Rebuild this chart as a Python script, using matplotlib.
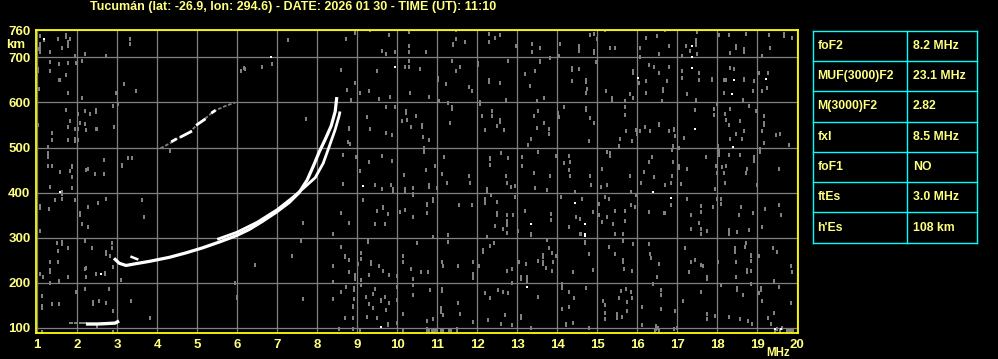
#
# Ionogram: virtual height vs frequency, with the scaled parameters table
#
import numpy as np
import matplotlib
matplotlib.use('Agg')
import matplotlib.pyplot as plt
from matplotlib.lines import Line2D

title = 'Tucumán (lat: -26.9, lon: 294.6) - DATE: 2026 01 30 - TIME (UT): 11:10'

# scaled parameters
param_names = ['foF2', 'MUF(3000)F2', 'M(3000)F2', 'fxI', 'foF1', 'ftEs', "h'Es"]
param_values = ['8.2 MHz', '23.1 MHz', '2.82', '8.5 MHz', 'NO', '3.0 MHz', '108 km']

freq_ticks = list(range(1, 21))
height_ticks = [100, 200, 300, 400, 500, 600, 700, 760]

# F2 trace (ordinary), MHz / km
f2_o_freq = [2.92, 3.05, 3.22, 3.47, 3.8, 4.3, 4.72, 5.13, 5.55, 5.97, 6.3, 6.63, 6.97,
             7.3, 7.55, 7.75, 7.9, 8.05, 8.2, 8.35, 8.45, 8.49]
f2_o_km = [254, 243, 238, 242, 247, 256, 266, 277, 290, 304, 318, 336, 356,
           378, 400, 428, 458, 490, 518, 548, 580, 612]
# F2 trace (extraordinary)
f2_x_freq = [5.5, 6.0, 6.5, 7.0, 7.4, 7.7, 7.95, 8.15, 8.3, 8.45, 8.55, 8.57]
f2_x_km = [296, 312, 334, 362, 390, 413, 433, 465, 502, 540, 571, 580]
# small piece at the start of the trace
f2_start_freq = [3.36, 3.5]
f2_start_km = [257, 252]

# second hop (faint)
hop2_freq = [4.08, 4.33, 4.42, 4.63, 4.81, 5.04, 5.17, 5.42, 5.7, 5.95]
hop2_km = [498, 510, 517, 525, 534, 554, 562, 581, 592, 600]
hop2_white = [(4.38, 4.46, 514, 518), (4.6, 4.84, 524, 535), (5.0, 5.18, 551, 562), (5.38, 5.43, 578, 581)]

# sporadic E
es_freq = [2.26, 2.5, 2.75, 2.95, 3.01]
es_km = [108, 108, 109, 110, 113]
es_faint_freq = [1.81, 1.88, 1.94, 2.0, 2.06, 2.12, 2.18, 2.23]
es_faint_km = [111, 111, 111, 111, 111, 111, 111, 111]

# background noise (MHz, km)
noise = [
    (1.08, 748), (1.17, 738), (1.08, 730), (1.08, 720), (1.08, 713), (1.33, 713), (1.53, 742),
    (1.63, 722), (1.73, 749), (1.73, 745), (1.78, 734), (1.78, 725), (1.83, 742), (1.94, 704),
    (2.2, 707), (2.13, 693), (1.33, 689), (1.54, 685), (1.78, 687), (1.98, 687), (1.03, 674),
    (1.03, 670), (1.33, 670), (1.73, 660), (1.54, 650), (1.56, 650), (1.04, 629), (1.78, 620),
    (2.13, 610), (2.73, 704), (3.33, 742), (3.33, 730), (3.18, 642), (3.48, 625), (2.98, 620),
    (2.9, 593), (3.03, 597), (1.73, 584), (2.03, 575), (2.2, 580), (2.33, 575), (2.48, 583),
    (2.48, 578), (1.83, 558), (2.08, 554), (2.2, 553), (1.78, 545), (1.94, 542), (2.03, 541),
    (2.46, 541), (2.5, 541), (2.23, 538), (2.93, 546), (1.03, 550), (1.38, 533), (1.38, 516),
    (1.78, 516), (1.94, 518), (1.94, 515), (2.03, 516), (1.28, 501), (1.28, 488), (1.28, 479),
    (1.28, 459), (1.38, 459), (1.58, 445), (1.88, 460), (1.88, 457), (1.83, 447), (1.88, 434),
    (2.23, 450), (2.28, 453), (2.44, 441), (2.68, 472), (2.68, 441), (3.13, 461), (3.13, 458),
    (3.28, 477), (3.38, 477), (4.33, 493), (6.18, 677), (6.09, 670), (6.63, 679), (6.88, 685),
    (7.28, 739), (1.03, 718), (6.2, 674),
    (8.94, 755), (9.32, 761), (8.73, 742), (9.79, 749), (10.29, 757), (9.63, 715), (9.73, 707),
    (9.94, 713), (10.29, 725), (10.29, 713), (10.73, 713), (11.4, 730), (11.4, 727),
    (11.48, 740), (11.69, 735), (11.48, 761), (12.29, 752), (12.58, 749), (12.29, 735),
    (12.44, 744), (12.98, 725), (13.38, 729), (13.56, 722), (13.38, 713), (13.58, 693),
    (13.58, 690), (8.59, 672), (9.5, 670), (10.29, 693), (10.29, 679), (10.19, 679),
    (10.58, 674), (11.02, 655), (11.02, 650), (11.38, 693), (11.48, 670), (11.58, 679),
    (12.02, 687), (12.02, 683), (12.29, 650), (12.29, 646), (12.58, 644), (12.77, 693),
    (13.19, 663), (13.33, 637), (13.44, 670), (8.94, 644), (8.75, 628), (9.08, 622),
    (9.29, 625), (9.54, 608), (9.83, 612), (10.33, 622), (10.79, 612), (11.23, 640),
    (11.79, 634), (11.88, 625), (11.04, 603), (12.08, 601), (12.08, 597), (12.71, 605),
    (13.5, 603), (7.73, 563), (8.84, 606), (9.25, 567), (9.71, 589), (9.94, 589), (10.23, 580),
    (10.23, 576), (10.11, 558), (10.25, 561), (10.34, 546), (10.48, 569), (10.63, 550),
    (10.63, 546), (10.79, 516), (10.64, 523), (11.27, 598), (11.36, 589), (11.36, 586),
    (11.31, 555), (12.11, 570), (12.38, 580), (12.38, 570), (12.58, 560), (12.58, 557),
    (12.49, 548), (12.19, 539), (12.66, 539), (13.49, 543), (13.41, 570), (13.53, 582),
    (13.34, 520), (13.28, 505), (13.53, 490), (13.11, 479), (8.79, 543), (8.79, 540),
    (8.76, 513), (8.82, 508), (8.96, 478), (9.31, 541), (9.73, 533), (9.87, 527), (10.66, 498),
    (10.66, 494), (10.66, 490), (11.16, 479), (12.33, 477), (12.33, 474), (12.6, 487),
    (12.78, 477), (12.33, 462), (13.13, 459), (8.64, 483), (9.06, 448), (9.29, 467),
    (9.63, 481), (9.88, 470), (10.17, 440), (10.71, 451), (10.94, 459), (11.13, 442),
    (11.79, 437), (12.71, 437), (13.42, 443),
    (14.83, 750), (14.93, 752), (15.0, 741), (14.54, 725), (14.54, 719), (14.54, 714),
    (14.92, 715), (14.92, 711), (14.96, 689), (14.08, 729), (13.83, 698), (14.04, 704),
    (15.33, 720), (15.44, 720), (15.19, 761), (16.23, 744), (16.5, 748), (16.69, 761),
    (16.79, 725), (16.54, 707), (16.08, 720), (16.08, 700), (17.23, 725), (17.48, 738),
    (17.48, 733), (17.48, 728), (17.33, 714), (17.5, 707), (17.5, 757), (17.13, 703),
    (18.04, 749), (18.29, 749), (18.73, 752), (18.48, 725), (18.48, 720), (18.33, 711),
    (18.67, 718), (18.67, 713), (19.29, 749), (19.33, 722), (19.68, 752), (19.68, 748),
    (19.88, 744), (19.13, 704), (14.38, 677), (14.38, 672), (14.38, 648), (14.54, 674),
    (14.73, 651), (14.73, 646), (14.75, 631), (14.73, 622), (15.23, 625), (15.37, 609),
    (15.37, 605), (15.69, 603), (15.81, 618), (15.9, 670), (15.9, 666), (16.04, 644),
    (16.21, 648), (16.29, 683), (16.42, 678), (16.54, 666), (16.65, 629), (16.65, 626),
    (16.63, 603), (16.79, 678), (16.75, 648), (16.23, 622), (15.89, 610), (17.13, 670),
    (17.13, 655), (17.25, 618), (17.54, 666), (17.54, 651), (17.46, 606), (17.88, 653),
    (17.88, 649), (18.17, 651), (18.23, 651), (18.33, 677), (18.43, 674), (18.17, 622),
    (18.67, 653), (18.67, 649), (18.93, 648), (19.04, 666), (19.27, 666), (19.25, 633),
    (19.13, 625), (18.65, 606), (18.9, 625), (13.68, 610), (14.02, 577), (14.18, 589),
    (13.79, 540), (13.79, 531), (14.04, 568), (14.73, 587), (14.73, 583), (14.83, 566),
    (14.93, 555), (14.79, 514), (15.69, 589), (15.69, 572), (15.73, 536), (15.98, 539),
    (16.08, 536), (16.0, 529), (15.58, 518), (15.54, 504), (15.88, 514), (16.19, 546),
    (16.33, 536), (16.54, 553), (16.54, 549), (16.79, 536), (16.93, 542), (16.93, 538),
    (16.94, 526), (16.9, 504), (17.04, 498), (17.18, 521), (17.44, 583), (17.92, 585),
    (17.92, 572), (18.0, 596), (18.19, 575), (18.23, 562), (18.29, 551), (18.33, 585),
    (18.58, 559), (18.67, 536), (18.46, 529), (18.33, 518), (18.63, 518), (18.79, 593),
    (18.96, 580), (19.17, 570), (19.18, 555), (19.18, 551), (19.13, 536), (19.48, 527),
    (19.58, 531), (19.18, 510), (19.79, 505), (18.03, 503), (13.68, 555), (13.96, 481),
    (13.83, 437), (14.29, 482), (14.33, 467), (14.18, 466), (14.29, 449), (14.33, 437),
    (14.83, 437), (15.13, 452), (15.25, 491), (15.33, 488), (15.33, 481), (15.83, 437),
    (16.17, 446), (16.29, 467), (16.38, 478), (16.42, 434), (16.88, 495), (16.9, 467),
    (16.88, 437), (17.04, 460), (17.04, 455), (17.25, 452), (17.71, 478), (17.96, 460),
    (18.04, 493), (18.04, 488), (18.04, 484), (18.13, 456), (18.23, 460), (18.29, 484),
    (18.17, 443), (18.58, 484), (18.75, 452), (18.93, 478), (18.93, 470), (19.08, 496),
    (19.08, 490), (19.54, 452), (18.73, 443), (18.0, 443),
    (1.33, 412), (1.63, 401), (1.63, 396), (1.88, 410), (1.08, 371), (1.08, 366), (1.29, 364),
    (1.44, 383), (1.61, 386), (1.94, 383), (2.08, 355), (2.08, 351), (2.13, 331), (2.28, 368),
    (2.28, 324), (2.53, 377), (2.73, 386), (3.62, 383), (3.67, 346), (1.08, 315), (1.5, 288),
    (1.63, 290), (1.63, 286), (1.78, 276), (1.53, 270), (2.2, 293), (2.38, 276), (2.73, 267),
    (2.73, 263), (2.88, 289), (2.86, 276), (2.83, 260), (1.33, 245), (1.53, 245), (1.33, 228),
    (1.33, 224), (1.08, 218), (1.14, 213), (1.78, 213), (2.23, 233), (2.2, 231), (2.23, 213),
    (2.46, 218), (2.69, 222), (2.69, 218), (2.9, 235), (3.1, 205), (3.35, 160), (1.33, 198),
    (1.54, 203), (1.98, 180), (2.2, 186), (2.79, 186), (1.12, 170), (1.38, 152), (1.54, 152),
    (1.12, 147), (1.12, 143), (2.4, 156), (2.4, 152), (2.54, 160), (2.73, 155), (2.9, 137),
    (3.83, 121), (5.95, 198), (5.99, 168), (5.99, 165), (6.45, 240), (1.12, 91), (2.9, 91),
    (2.49, 104), (1.13, 91),
    (8.64, 419), (9.45, 417), (9.61, 408), (9.85, 417), (9.89, 407), (9.89, 404), (10.2, 407),
    (10.2, 404), (10.4, 410), (10.4, 397), (10.4, 394), (10.8, 416), (10.8, 412), (10.99, 410),
    (11.25, 421), (11.82, 421), (12.24, 407), (12.24, 404), (12.75, 421), (12.84, 412),
    (12.95, 414), (13.45, 410), (12.95, 390), (9.14, 383), (9.64, 368), (9.64, 365),
    (9.5, 358), (9.78, 353), (10.07, 357), (10.2, 361), (10.4, 346), (10.74, 375), (10.74, 372),
    (10.74, 355), (10.9, 385), (10.9, 381), (11.55, 373), (11.86, 373), (12.19, 386),
    (12.19, 377), (12.34, 395), (12.49, 355), (12.49, 351), (12.49, 379), (12.75, 351),
    (12.89, 351), (12.75, 336), (12.75, 327), (12.75, 311), (13.19, 358), (13.34, 309),
    (13.34, 305), (13.03, 314), (8.59, 355), (8.8, 333), (8.39, 307), (7.64, 333), (9.45, 329),
    (9.7, 329), (10.9, 302), (11.28, 305), (11.28, 291), (12.24, 302), (12.45, 326),
    (12.65, 320), (12.42, 287), (9.28, 294), (9.28, 290), (10.49, 289), (12.14, 272),
    (12.14, 267), (12.32, 282), (7.59, 292), (7.36, 258), (8.39, 236), (8.59, 280),
    (8.69, 260), (8.69, 256), (8.8, 250), (8.8, 223), (9.09, 265), (9.09, 252), (9.03, 241),
    (9.35, 245), (9.35, 241), (9.55, 236), (9.64, 226), (9.8, 217), (9.3, 217), (8.95, 217),
    (8.95, 208), (9.09, 206), (10.0, 214), (10.15, 258), (10.15, 245), (10.34, 230),
    (10.59, 223), (10.77, 223), (10.39, 208), (11.11, 245), (11.15, 236), (11.53, 236),
    (11.89, 245), (11.89, 219), (11.89, 210), (12.05, 236), (12.74, 226), (12.86, 230),
    (13.05, 245), (13.09, 213), (13.09, 209), (13.22, 241), (13.24, 213), (13.24, 204),
    (13.53, 248), (13.64, 261), (13.64, 257), (13.64, 245), (13.64, 241), (8.39, 201),
    (8.59, 179), (8.72, 191), (8.92, 188), (8.92, 184), (8.92, 164), (8.9, 149), (8.9, 145),
    (7.65, 164), (8.39, 164), (9.09, 194), (9.22, 169), (9.39, 175), (9.45, 186), (9.59, 162),
    (9.59, 158), (9.7, 169), (9.3, 152), (9.4, 144), (9.72, 140), (9.8, 155), (9.99, 162),
    (9.99, 191), (10.39, 195), (10.39, 173), (10.14, 130), (9.99, 111), (10.82, 184),
    (10.9, 120), (10.74, 114), (11.11, 186), (11.11, 182), (11.09, 143), (11.09, 139),
    (11.09, 135), (11.14, 129), (11.53, 155), (11.57, 130), (11.9, 113), (12.19, 177),
    (12.32, 166), (12.28, 116), (12.53, 184), (12.65, 180), (12.78, 177), (12.86, 199),
    (13.09, 125), (13.09, 121), (12.7, 128), (12.59, 107), (12.86, 106), (13.53, 169),
    (13.34, 100), (8.7, 122), (8.9, 122), (9.24, 123), (9.49, 122), (9.78, 109), (9.78, 105),
    (8.55, 96), (8.89, 96), (9.07, 94), (10.15, 94),
    (10.74, 93), (10.74, 97), (10.8, 93), (10.86, 93), (10.92, 93), (10.98, 95), (11.1, 93),
    (11.14, 93), (11.3, 95), (11.34, 95), (11.5, 93), (11.5, 97),
    (13.75, 405), (14.09, 390), (14.44, 402), (14.63, 386), (14.84, 417), (14.9, 357),
    (13.84, 353), (13.84, 338), (14.3, 324), (14.46, 346), (14.57, 341), (14.69, 287),
    (14.69, 291), (14.57, 307), (14.6, 307), (15.1, 412), (15.24, 416), (15.05, 375),
    (15.2, 390), (15.3, 386), (15.05, 349), (15.24, 346), (15.13, 335), (15.44, 358),
    (15.69, 358), (15.4, 329), (15.69, 336), (15.44, 307), (15.65, 307), (15.65, 292),
    (15.84, 402), (15.85, 372), (15.94, 368), (15.96, 395), (16.09, 421), (16.84, 373),
    (16.69, 416), (16.84, 421), (17.09, 419), (16.3, 357), (16.67, 355), (16.7, 355),
    (17.24, 386), (17.34, 351), (17.59, 370), (17.59, 357), (17.55, 333), (17.34, 319),
    (17.59, 319), (17.75, 314), (17.59, 307), (17.9, 368), (17.99, 385), (18.09, 375),
    (18.09, 385), (17.94, 407), (18.19, 422), (18.3, 316), (18.3, 312), (18.3, 308),
    (18.49, 312), (18.59, 368), (18.55, 351), (18.8, 316), (18.9, 355), (18.99, 417),
    (19.19, 364), (19.55, 373), (19.59, 351), (19.13, 324), (13.74, 294), (13.8, 276),
    (13.88, 265), (13.96, 258), (13.9, 245), (13.71, 232), (13.88, 225), (14.8, 263),
    (14.9, 228), (14.4, 223), (15.3, 280), (15.44, 263), (15.65, 250), (15.65, 246),
    (15.67, 230), (15.88, 226), (15.9, 285), (16.3, 285), (16.32, 263), (16.35, 254),
    (16.54, 241), (16.5, 213), (17.19, 276), (17.34, 245), (17.44, 250), (17.6, 239),
    (17.65, 236), (17.3, 223), (17.74, 213), (17.74, 209), (18.02, 245), (18.44, 276),
    (18.44, 267), (18.46, 245), (18.71, 287), (18.7, 280), (18.85, 262), (18.85, 258),
    (18.84, 248), (18.74, 228), (18.74, 224), (18.85, 226), (18.46, 213), (19.05, 258),
    (19.4, 276), (19.5, 267), (19.85, 236), (19.88, 223), (19.42, 204), (14.13, 197),
    (14.13, 188), (14.3, 179), (14.42, 166), (14.3, 145), (14.13, 142), (14.71, 189),
    (14.8, 100), (14.21, 109), (14.21, 105), (14.4, 111), (15.15, 158), (15.19, 150),
    (15.19, 133), (15.19, 120), (15.55, 166), (15.59, 182), (15.71, 186), (15.74, 157),
    (15.85, 180), (15.88, 166), (15.74, 136), (15.49, 130), (15.63, 123), (15.49, 122),
    (16.13, 145), (16.4, 197), (16.59, 184), (16.59, 173), (16.59, 142), (16.46, 101),
    (16.94, 136), (17.15, 160), (17.6, 179), (18.09, 194), (18.49, 188), (18.49, 184),
    (18.65, 173), (18.84, 197), (19.09, 188), (19.09, 184), (19.05, 177), (19.13, 158),
    (19.84, 155), (19.55, 191), (17.75, 130), (17.75, 118), (17.94, 125), (18.3, 123),
    (18.57, 120), (18.77, 114), (18.88, 107), (19.27, 122), (19.34, 107), (19.42, 133),
    (17.0, 100), (16.92, 96), (16.13, 106),
    (16.44, 92), (16.48, 96), (16.52, 100), (16.48, 104), (16.55, 92), (19.44, 92),
    (19.5, 96), (19.56, 92), (19.62, 100), (19.75, 92), (19.8, 95), (19.85, 92), (19.9, 95),
]

# single bright pixels
specks = [(1.17, 742), (6.84, 700), (9.94, 679), (17.38, 725), (17.38, 700), (17.38, 677),
          (16.03, 655), (18.43, 651), (19.23, 653), (18.38, 618), (17.44, 541), (18.4, 501),
          (1.58, 401), (2.6, 218), (9.14, 414), (13.34, 329), (13.25, 191), (9.59, 101),
          (14.44, 377), (14.69, 331), (14.69, 307), (14.69, 303), (16.4, 402), (16.84, 388),
          (19.44, 97), (19.6, 96)]

txt = '#ffff80'
grey = '#808080'
font = 'Liberation Sans'
pixel = [(-0.5, -1), (0.5, -1), (0.5, 1), (-0.5, 1)]

fig = plt.figure(figsize=(9.98, 3.59), dpi=100, facecolor='black')
ax = fig.add_axes([36 / 998, 26 / 359, 762 / 998, 303 / 359], facecolor='black')
ax.set_xlim(0.97, 20.02)
ax.set_ylim(88, 761)
ax.set_xticks(freq_ticks)
ax.set_yticks(height_ticks)
ax.set_xticklabels([str(v) for v in freq_ticks])
ax.set_yticklabels([str(v) for v in height_ticks])
ax.tick_params(length=0, colors=txt, labelsize=9.5, pad=4)
for lab in ax.get_xticklabels() + ax.get_yticklabels():
    lab.set_fontfamily(font)
    lab.set_fontweight('bold')
ax.grid(True, color=grey, linewidth=0.9, zorder=0)
for s in ax.spines.values():
    s.set_color('#ffff00')
    s.set_linewidth(1.3)
    s.set_zorder(5)

nf, nh = zip(*noise)
ax.plot(nf, nh, ls='none', marker=pixel, ms=2.4, mew=0, color=grey, zorder=2)
sf, sh = zip(*specks)
ax.plot(sf, sh, 's', ms=1.7, mew=0, color='white', zorder=3)

# traces
ax.plot(f2_o_freq, f2_o_km, color='white', lw=2.3, solid_capstyle='butt', zorder=4)
ax.plot(f2_x_freq, f2_x_km, color='white', lw=2.0, solid_capstyle='butt', zorder=4)
ax.plot(f2_start_freq, f2_start_km, color='white', lw=1.8, zorder=4)
ax.plot(hop2_freq, hop2_km, color=grey, lw=1.3, ls=(0, (2, 1)), zorder=3)
for f0, f1, h0, h1 in hop2_white:
    ax.plot([f0, f1], [h0, h1], color='white', lw=2.0, zorder=4)
ax.plot(es_freq, es_km, color='white', lw=2.4, zorder=4)
ax.plot(es_faint_freq, es_faint_km, 's', ms=1.6, mew=0, color=grey, zorder=3)

fig.text(90 / 998, 1 - 7 / 359, title, color=txt, fontsize=9, fontweight='bold',
         family=font, ha='left', va='center')
fig.text(6 / 998, 1 - 45.5 / 359, 'km', color=txt, fontsize=9.5, fontweight='bold',
         family=font, ha='left', va='center')
fig.text(778 / 998, 1 - 352.5 / 359, 'MHz', color=txt, fontsize=8.3, fontweight='bold',
         family=font, ha='center', va='center')

# parameters table
tab = fig.add_axes([812.7 / 998, (359 - 242.7) / 359, 164.6 / 998, 212 / 359])
tab.set_xlim(0, 1)
tab.set_ylim(len(param_names), 0)
tab.axis('off')
cyan = '#00ffff'
for i in range(len(param_names) + 1):
    tab.add_line(Line2D([0, 1], [i, i], color=cyan, lw=1.0, clip_on=False))
for x in (0, 94.6 / 164.6, 1):
    tab.add_line(Line2D([x, x], [0, len(param_names)], color=cyan, lw=1.0, clip_on=False))
for i, (name, val) in enumerate(zip(param_names, param_values)):
    tab.text(4.6 / 164.6, i + 0.5, name, color=txt, fontsize=8.8, fontweight='bold',
             family=font, ha='left', va='center')
    tab.text(100 / 164.6, i + 0.5, val, color=txt, fontsize=8.8, fontweight='bold',
             family=font, ha='left', va='center')

fig.savefig('out.png', dpi=100, facecolor='black')
